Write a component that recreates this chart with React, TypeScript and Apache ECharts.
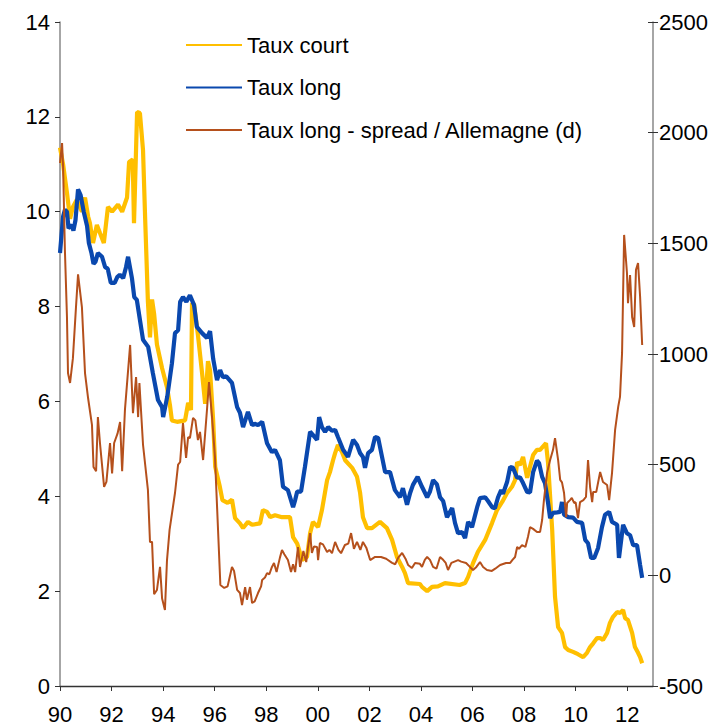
import React, { useEffect, useRef } from "react";
import * as echarts from "echarts";

const yearTicks = [1990, 1992, 1994, 1996, 1998, 2000, 2002, 2004, 2006, 2008, 2010, 2012];
const seriesNames = ["Taux court", "Taux long", "Taux long - spread / Allemagne (d)"];

const tauxCourt: [number, number][] = [
  [1990.0, 11.35], [1990.12, 11.0], [1990.27, 10.4], [1990.39, 9.85], [1990.5, 10.1], [1990.65, 10.25],
  [1990.85, 10.0], [1990.97, 10.3], [1991.09, 9.9], [1991.16, 9.76], [1991.28, 9.34], [1991.43, 9.72],
  [1991.55, 9.55], [1991.7, 9.34], [1991.86, 10.1], [1992.02, 10.0], [1992.25, 10.15], [1992.41, 10.0],
  [1992.6, 10.3], [1992.68, 11.05], [1992.82, 11.1], [1992.87, 9.76], [1992.99, 12.1], [1993.1, 12.08],
  [1993.22, 11.3], [1993.3, 9.9], [1993.41, 8.1], [1993.49, 7.35], [1993.57, 8.15], [1993.65, 7.85],
  [1993.76, 7.2], [1993.96, 6.7], [1994.15, 6.3], [1994.27, 5.9], [1994.34, 5.6], [1994.54, 5.57],
  [1994.85, 5.6], [1994.97, 5.97], [1995.08, 5.82], [1995.12, 8.07], [1995.2, 8.05], [1995.35, 7.4],
  [1995.51, 6.6], [1995.63, 5.95], [1995.74, 6.85], [1995.82, 6.66], [1995.94, 5.6], [1996.02, 4.62],
  [1996.2, 4.2], [1996.3, 3.92], [1996.5, 3.86], [1996.67, 3.93], [1996.79, 3.54], [1996.98, 3.43],
  [1997.1, 3.33], [1997.29, 3.46], [1997.45, 3.4], [1997.76, 3.43], [1997.87, 3.71], [1998.03, 3.67],
  [1998.15, 3.56], [1998.34, 3.6], [1998.61, 3.56], [1998.92, 3.56], [1999.04, 3.14], [1999.2, 3.0],
  [1999.39, 2.66], [1999.58, 2.72], [1999.7, 3.22], [1999.81, 3.46], [2000.01, 3.35], [2000.16, 3.71],
  [2000.36, 4.34], [2000.47, 4.51], [2000.59, 4.76], [2000.67, 4.91], [2000.78, 5.08], [2000.94, 4.93],
  [2001.06, 4.76], [2001.33, 4.6], [2001.52, 4.41], [2001.64, 4.07], [2001.75, 3.56], [2001.91, 3.33],
  [2002.1, 3.33], [2002.41, 3.46], [2002.68, 3.33], [2002.88, 3.08], [2003.07, 2.72], [2003.27, 2.51],
  [2003.38, 2.38], [2003.5, 2.17], [2003.96, 2.15], [2004.04, 2.09], [2004.24, 2.0], [2004.43, 2.09],
  [2004.66, 2.1], [2004.93, 2.17], [2005.5, 2.13], [2005.71, 2.17], [2005.83, 2.3], [2006.02, 2.59],
  [2006.21, 2.83], [2006.49, 3.08], [2006.76, 3.44], [2006.95, 3.71], [2007.15, 3.88], [2007.34, 4.07],
  [2007.53, 4.2], [2007.65, 4.34], [2007.73, 4.72], [2007.84, 4.66], [2007.96, 4.83], [2008.12, 4.39],
  [2008.23, 4.62], [2008.35, 4.87], [2008.5, 4.98], [2008.62, 4.98], [2008.85, 5.12], [2008.93, 4.7],
  [2009.09, 3.29], [2009.2, 1.88], [2009.32, 1.24], [2009.47, 1.12], [2009.59, 0.82], [2009.71, 0.76],
  [2009.9, 0.72], [2010.09, 0.67], [2010.29, 0.61], [2010.44, 0.7], [2010.56, 0.82], [2010.68, 0.9],
  [2010.83, 1.01], [2010.95, 1.01], [2011.06, 0.97], [2011.22, 1.12], [2011.33, 1.33], [2011.45, 1.46],
  [2011.61, 1.56], [2011.72, 1.54], [2011.84, 1.6], [2011.92, 1.43], [2012.03, 1.39], [2012.19, 1.12],
  [2012.3, 0.82], [2012.42, 0.7], [2012.5, 0.61], [2012.58, 0.48],
];

const tauxLong: [number, number][] = [
  [1990.0, 9.13], [1990.12, 9.9], [1990.19, 10.04], [1990.27, 10.0], [1990.33, 9.65], [1990.47, 9.72],
  [1990.52, 9.6], [1990.6, 9.82], [1990.7, 10.47], [1990.8, 10.35], [1990.92, 10.0], [1991.05, 9.7],
  [1991.12, 9.34], [1991.22, 9.13], [1991.3, 8.9], [1991.38, 8.95], [1991.47, 9.13], [1991.63, 9.05],
  [1991.75, 8.83], [1991.85, 8.8], [1991.97, 8.5], [1992.12, 8.5], [1992.22, 8.62], [1992.32, 8.67],
  [1992.45, 8.6], [1992.56, 8.83], [1992.64, 9.05], [1992.79, 8.6], [1992.88, 8.2], [1992.98, 8.14],
  [1993.1, 7.72], [1993.22, 7.3], [1993.42, 7.15], [1993.6, 6.6], [1993.8, 6.03], [1993.96, 5.88],
  [1994.0, 5.67], [1994.16, 6.1], [1994.34, 6.8], [1994.46, 7.44], [1994.58, 7.5], [1994.66, 8.1],
  [1994.77, 8.2], [1994.9, 8.1], [1995.04, 8.24], [1995.2, 8.03], [1995.31, 7.57], [1995.51, 7.44],
  [1995.7, 7.34], [1995.82, 7.48], [1995.94, 6.9], [1996.09, 6.45], [1996.21, 6.66], [1996.32, 6.51],
  [1996.45, 6.53], [1996.67, 6.39], [1996.87, 5.88], [1996.98, 5.76], [1997.1, 5.46], [1997.29, 5.78],
  [1997.45, 5.5], [1997.55, 5.53], [1997.68, 5.5], [1997.84, 5.57], [1998.03, 5.12], [1998.22, 4.93],
  [1998.34, 4.98], [1998.53, 4.76], [1998.65, 4.2], [1998.84, 4.13], [1999.04, 3.77], [1999.12, 3.92],
  [1999.2, 4.1], [1999.35, 4.1], [1999.5, 4.62], [1999.7, 5.36], [1999.8, 5.3], [1999.97, 5.19],
  [2000.05, 5.67], [2000.16, 5.46], [2000.28, 5.36], [2000.4, 5.46], [2000.55, 5.38], [2000.67, 5.4],
  [2000.78, 5.25], [2000.98, 4.98], [2001.17, 4.83], [2001.37, 5.19], [2001.52, 5.08], [2001.64, 4.91],
  [2001.75, 4.83], [2001.83, 4.6], [2001.95, 4.91], [2002.1, 4.98], [2002.22, 5.25], [2002.34, 5.23],
  [2002.49, 4.83], [2002.61, 4.51], [2002.8, 4.51], [2002.99, 4.13], [2003.19, 3.98], [2003.3, 4.17],
  [2003.46, 3.82], [2003.58, 4.07], [2003.69, 4.24], [2003.87, 4.41], [2004.04, 4.2], [2004.24, 3.98],
  [2004.35, 4.1], [2004.47, 4.34], [2004.62, 4.25], [2004.74, 3.98], [2004.86, 3.9], [2005.01, 3.56],
  [2005.21, 3.75], [2005.32, 3.44], [2005.44, 3.22], [2005.59, 3.25], [2005.71, 3.12], [2005.83, 3.46],
  [2005.98, 3.35], [2006.18, 3.77], [2006.29, 3.96], [2006.49, 3.98], [2006.6, 3.9], [2006.76, 3.77],
  [2006.87, 3.75], [2006.99, 3.98], [2007.11, 4.13], [2007.18, 4.05], [2007.34, 4.3], [2007.46, 4.62],
  [2007.57, 4.6], [2007.73, 4.39], [2007.84, 4.4], [2007.96, 4.28], [2008.12, 4.09], [2008.23, 4.08],
  [2008.35, 4.51], [2008.5, 4.75], [2008.58, 4.7], [2008.7, 4.41], [2008.81, 4.28], [2008.93, 3.86],
  [2009.01, 3.54], [2009.12, 3.65], [2009.28, 3.66], [2009.4, 3.67], [2009.47, 3.88], [2009.55, 3.61],
  [2009.71, 3.56], [2009.9, 3.55], [2010.05, 3.46], [2010.25, 3.44], [2010.37, 3.08], [2010.48, 3.01],
  [2010.6, 2.7], [2010.72, 2.7], [2010.87, 2.91], [2011.02, 3.35], [2011.14, 3.61], [2011.3, 3.67],
  [2011.41, 3.46], [2011.61, 3.4], [2011.68, 2.7], [2011.84, 3.4], [2011.99, 3.22], [2012.11, 3.18],
  [2012.23, 2.97], [2012.38, 2.97], [2012.5, 2.55], [2012.58, 2.28],
];

const spreadAllemagne: [number, number][] = [
  [1990.0, 1863], [1990.08, 1953], [1990.12, 1845], [1990.19, 1470], [1990.27, 1167], [1990.31, 914],
  [1990.39, 869], [1990.5, 980], [1990.62, 1212], [1990.7, 1360], [1990.85, 1212], [1990.97, 914],
  [1991.09, 800], [1991.24, 680], [1991.3, 489], [1991.4, 470], [1991.47, 715], [1991.55, 598],
  [1991.71, 400], [1991.8, 422], [1991.94, 598], [1992.02, 460], [1992.1, 598], [1992.23, 640],
  [1992.33, 693], [1992.41, 470], [1992.52, 750], [1992.72, 1041], [1992.83, 733], [1992.95, 896],
  [1993.03, 715], [1993.08, 869], [1993.22, 590], [1993.41, 386], [1993.49, 151], [1993.57, 151],
  [1993.65, -85], [1993.76, -66], [1993.88, 38], [1993.96, -105], [1994.07, -157], [1994.15, 69],
  [1994.25, 205], [1994.46, 372], [1994.58, 500], [1994.66, 512], [1994.77, 688], [1994.89, 530],
  [1994.97, 625], [1995.04, 620], [1995.16, 711], [1995.25, 700], [1995.35, 611], [1995.43, 648],
  [1995.55, 521], [1995.7, 747], [1995.78, 873], [1995.9, 710], [1996.01, 535], [1996.13, 205],
  [1996.22, -44], [1996.37, -57], [1996.5, -50], [1996.67, 38], [1996.75, 20], [1996.87, -66],
  [1996.98, -80], [1997.06, -134], [1997.18, -53], [1997.25, -110], [1997.37, -53], [1997.45, -125],
  [1997.55, -118], [1997.68, -80], [1997.8, -50], [1997.84, -21], [1997.95, -10], [1998.03, 10],
  [1998.12, 5], [1998.22, 38], [1998.3, 56], [1998.4, 15], [1998.53, 80], [1998.61, 114],
  [1998.7, 95], [1998.84, 69], [1998.96, 15], [1999.04, 50], [1999.12, 15], [1999.23, 128],
  [1999.31, 38], [1999.44, 110], [1999.55, 60], [1999.62, 128], [1999.7, 191], [1999.77, 101],
  [1999.85, 130], [1999.97, 128], [2000.01, 69], [2000.08, 146], [2000.2, 140], [2000.36, 105],
  [2000.45, 115], [2000.55, 100], [2000.67, 151], [2000.8, 115], [2000.9, 100], [2001.05, 137],
  [2001.18, 143], [2001.29, 191], [2001.4, 120], [2001.52, 151], [2001.65, 115], [2001.75, 151],
  [2001.88, 125], [2002.03, 69], [2002.22, 83], [2002.45, 83], [2002.65, 75], [2002.88, 56],
  [2003.0, 50], [2003.12, 80], [2003.27, 101], [2003.4, 75], [2003.5, 47], [2003.65, 33],
  [2003.77, 56], [2003.96, 52], [2004.04, 38], [2004.15, 70], [2004.24, 83], [2004.35, 70],
  [2004.47, 38], [2004.6, 30], [2004.74, 83], [2004.86, 70], [2004.96, 56], [2005.05, 24],
  [2005.18, 56], [2005.3, 62], [2005.44, 69], [2005.56, 62], [2005.75, 56], [2005.9, 38],
  [2006.02, 24], [2006.15, 38], [2006.29, 60], [2006.41, 38], [2006.56, 24], [2006.75, 20],
  [2006.88, 30], [2007.07, 47], [2007.3, 56], [2007.46, 56], [2007.55, 70], [2007.65, 83],
  [2007.73, 128], [2007.8, 120], [2007.92, 137], [2008.05, 128], [2008.15, 173], [2008.23, 218],
  [2008.35, 210], [2008.5, 196], [2008.62, 196], [2008.7, 250], [2008.77, 340], [2008.89, 462],
  [2009.01, 521], [2009.12, 566], [2009.2, 620], [2009.32, 521], [2009.4, 431], [2009.47, 420],
  [2009.55, 372], [2009.63, 263], [2009.67, 327], [2009.78, 340], [2009.85, 350], [2009.94, 327],
  [2010.0, 330], [2010.09, 259], [2010.17, 331], [2010.3, 340], [2010.4, 354], [2010.48, 521],
  [2010.56, 399], [2010.64, 331], [2010.68, 377], [2010.8, 377], [2010.95, 467], [2011.06, 422],
  [2011.22, 408], [2011.3, 340], [2011.41, 462], [2011.53, 657], [2011.65, 761], [2011.72, 806],
  [2011.8, 1005], [2011.88, 1538], [2011.99, 1366], [2012.03, 1230], [2012.11, 1357], [2012.19, 1167],
  [2012.27, 1122], [2012.34, 1380], [2012.42, 1411], [2012.5, 1258], [2012.58, 1041],
];

const FONT = "'Liberation Sans', Arial, sans-serif";
const FS = 22;

export default function App() {
  const ref = useRef<HTMLDivElement>(null);
  useEffect(() => {
    if (!ref.current) return;
    const chart = echarts.init(ref.current, undefined, { renderer: "svg" });
    const labelStyle = { color: "#000", fontFamily: FONT, fontSize: FS };
    chart.setOption({
      animation: false,
      backgroundColor: "#fff",
      textStyle: { fontFamily: FONT },
      grid: { left: 60, right: 71, top: 22, bottom: 42, containLabel: false },
      legend: {
        orient: "vertical",
        left: 180,
        top: 29,
        itemWidth: 56,
        itemHeight: 14,
        itemGap: 20.5,
        data: seriesNames,
        itemStyle: { opacity: 0 },
        textStyle: { ...labelStyle, lineHeight: 22 },
      },
      xAxis: {
        type: "value",
        min: 1990,
        max: 2013,
        interval: 2,
        axisLine: { lineStyle: { color: "#333", width: 1.3 } },
        axisTick: { show: true, length: 5, lineStyle: { color: "#333" } },
        splitLine: { show: false },
        axisLabel: {
          ...labelStyle,
          margin: 17,
          showMaxLabel: false,
          formatter: (v: number) => (yearTicks.includes(v) ? String(v % 100).padStart(2, "0") : ""),
        },
      },
      yAxis: [
        {
          type: "value",
          min: 0,
          max: 14,
          interval: 2,
          position: "left",
          axisLine: { show: true, lineStyle: { color: "#888", width: 1.5 } },
          axisTick: { show: true, length: 5, lineStyle: { color: "#333" } },
          splitLine: { show: false },
          axisLabel: { ...labelStyle, margin: 10 },
        },
        {
          type: "value",
          min: -500,
          max: 2500,
          interval: 500,
          position: "right",
          axisLine: { show: true, lineStyle: { color: "#888", width: 1.5 } },
          axisTick: { show: true, length: 5, lineStyle: { color: "#333" } },
          splitLine: { show: false },
          axisLabel: { ...labelStyle, margin: 6, formatter: (v: number) => String(v) },
        },
        {
          type: "value",
          min: -500,
          max: 2500,
          interval: 500,
          position: "right",
          axisLine: { show: false },
          axisTick: { show: true, inside: true, length: 5, lineStyle: { color: "#333" } },
          splitLine: { show: false },
          axisLabel: { show: false },
        },
      ],
      series: [
        {
          name: seriesNames[0],
          type: "line",
          data: tauxCourt,
          symbol: "none",
          lineStyle: { color: "#FFBF00", width: 4.2 },
          itemStyle: { color: "#FFBF00" },
          z: 2,
        },
        {
          name: seriesNames[1],
          type: "line",
          data: tauxLong,
          symbol: "none",
          lineStyle: { color: "#0A48AE", width: 4.2 },
          itemStyle: { color: "#0A48AE" },
          z: 3,
        },
        {
          name: seriesNames[2],
          type: "line",
          yAxisIndex: 1,
          data: spreadAllemagne,
          symbol: "none",
          lineStyle: { color: "#B5501C", width: 2 },
          itemStyle: { color: "#B5501C" },
          z: 4,
        },
      ],
    });
    return () => chart.dispose();
  }, []);
  return (
    <div
      ref={ref}
      style={{ position: "absolute", left: 0, top: 0, width: 724, height: 728, background: "#fff" }}
    />
  );
}
